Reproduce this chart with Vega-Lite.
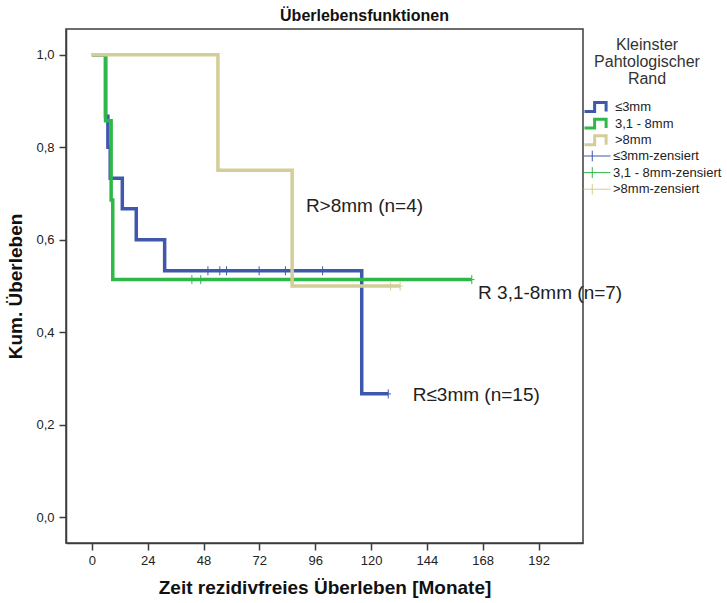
{
  "$schema": "https://vega.github.io/schema/vega-lite/v6.json",
  "width": 517,
  "height": 514,
  "autosize": {"type": "none"},
  "padding": {"left": 66, "top": 29, "right": 144, "bottom": 60},
  "title": {"text": "Überlebensfunktionen", "fontSize": 16, "fontWeight": "bold", "anchor": "middle", "dx": 40, "offset": 5, "color": "#111"},
  "config": {
    "font": "Liberation Sans",
    "view": {"stroke": "#3c3c3c", "strokeWidth": 1.5}
  },
  "datasets": {
    "curves": [
      {"series": "≤3mm", "t": 0, "s": 1},
      {"series": "≤3mm", "t": 5.9, "s": 0.867},
      {"series": "≤3mm", "t": 6.9, "s": 0.8},
      {"series": "≤3mm", "t": 7.9, "s": 0.733},
      {"series": "≤3mm", "t": 13.1, "s": 0.667},
      {"series": "≤3mm", "t": 19.1, "s": 0.6},
      {"series": "≤3mm", "t": 31.3, "s": 0.533},
      {"series": "≤3mm", "t": 116, "s": 0.267},
      {"series": "≤3mm", "t": 127.4, "s": 0.267},
      {"series": "3,1 - 8mm", "t": 0, "s": 1},
      {"series": "3,1 - 8mm", "t": 5.9, "s": 0.857},
      {"series": "3,1 - 8mm", "t": 8.3, "s": 0.686},
      {"series": "3,1 - 8mm", "t": 9.0, "s": 0.514},
      {"series": "3,1 - 8mm", "t": 163.3, "s": 0.514},
      {"series": ">8mm", "t": 0, "s": 1},
      {"series": ">8mm", "t": 54.2, "s": 0.75},
      {"series": ">8mm", "t": 86.1, "s": 0.5},
      {"series": ">8mm", "t": 132.5, "s": 0.5}
    ],
    "censored": [
      {"series": "≤3mm-zensiert", "t": 49.9, "s": 0.533},
      {"series": "≤3mm-zensiert", "t": 55, "s": 0.533},
      {"series": "≤3mm-zensiert", "t": 57.9, "s": 0.533},
      {"series": "≤3mm-zensiert", "t": 71.9, "s": 0.533},
      {"series": "≤3mm-zensiert", "t": 83.2, "s": 0.533},
      {"series": "≤3mm-zensiert", "t": 99.2, "s": 0.533},
      {"series": "≤3mm-zensiert", "t": 127.4, "s": 0.267},
      {"series": "3,1 - 8mm-zensiert", "t": 43.0, "s": 0.514},
      {"series": "3,1 - 8mm-zensiert", "t": 46.8, "s": 0.514},
      {"series": "3,1 - 8mm-zensiert", "t": 163.3, "s": 0.514},
      {"series": ">8mm-zensiert", "t": 128.4, "s": 0.5},
      {"series": ">8mm-zensiert", "t": 132.5, "s": 0.5}
    ],
    "notes": [
      {"label": "R>8mm (n=4)", "t": 92, "s": 0.672},
      {"label": "R 3,1-8mm (n=7)", "t": 166, "s": 0.486},
      {"label": "R≤3mm (n=15)", "t": 137.9, "s": 0.265}
    ]
  },
  "layer": [
    {
      "data": {"name": "curves"},
      "mark": {"type": "line", "interpolate": "step-after", "strokeWidth": 3.5},
      "encoding": {
        "x": {
          "field": "t", "type": "quantitative",
          "scale": {"domain": [-11.1, 211.1], "nice": false, "zero": false},
          "axis": {
            "title": "Zeit rezidivfreies Überleben [Monate]",
            "values": [0, 24, 48, 72, 96, 120, 144, 168, 192],
            "grid": false, "tickSize": 7, "tickWidth": 1.5, "tickColor": "#3c3c3c",
            "domainColor": "#3c3c3c", "domainWidth": 1.5,
            "labelFontSize": 13, "labelPadding": 4, "labelColor": "#222", "labelFlush": false,
            "titleFontSize": 19, "titleFontWeight": "bold", "titlePadding": 11, "titleColor": "#111"
          }
        },
        "y": {
          "field": "s", "type": "quantitative",
          "scale": {"domain": [-0.0553, 1.0555], "nice": false, "zero": false},
          "axis": {
            "title": "Kum. Überleben",
            "values": [0, 0.2, 0.4, 0.6, 0.8, 1.0],
            "labelExpr": "replace(format(datum.value, '.1f'), '.', ',')",
            "grid": false, "tickSize": 7, "tickWidth": 1.5, "tickColor": "#3c3c3c",
            "domainColor": "#3c3c3c", "domainWidth": 1.5,
            "labelFontSize": 13, "labelPadding": 5, "labelColor": "#222",
            "titleFontSize": 19, "titleFontWeight": "bold", "titlePadding": 10, "titleColor": "#111"
          }
        },
        "color": {
          "field": "series", "type": "nominal",
          "scale": {
            "domain": ["≤3mm", "3,1 - 8mm", ">8mm"],
            "range": ["#3E58AC", "#2EB848", "#D3CE97"]
          },
          "legend": {
            "title": ["Kleinster", "Pahtologischer", "Rand"],
            "orient": "none", "legendX": 517, "legendY": 8,
            "titleFontSize": 16, "titleFontWeight": "normal", "titleColor": "#333",
            "titleAlign": "center", "titleAnchor": "middle", "titleLineHeight": 17, "titlePadding": 12,
            "labelFontSize": 13, "labelColor": "#222", "labelOffset": 2,
            "clipHeight": 16, "rowPadding": 0.6, "symbolSize": 729, "padding": 0,
            "symbolType": "M-1,0.33H-0.25V-0.33H0.6V0.33",
            "symbolStrokeWidth": 3, "symbolFillColor": "transparent",
            "encode": {"title": {"update": {"dx": {"value": 19}}}}
          }
        }
      }
    },
    {
      "data": {"name": "censored"},
      "mark": {"type": "point", "shape": "M-0.6,0H0.6M0,-1V1", "size": 81, "filled": false, "strokeWidth": 1, "opacity": 1},
      "encoding": {
        "x": {"field": "t", "type": "quantitative"},
        "y": {"field": "s", "type": "quantitative"},
        "stroke": {
          "field": "series", "type": "nominal",
          "scale": {
            "domain": ["≤3mm-zensiert", "3,1 - 8mm-zensiert", ">8mm-zensiert"],
            "range": ["#3E58AC", "#2EB848", "#D3CE97"]
          },
          "legend": {
            "title": null,
            "orient": "none", "legendX": 517, "legendY": 119,
            "labelFontSize": 13, "labelColor": "#222", "labelOffset": 2,
            "clipHeight": 16, "rowPadding": 0.6, "symbolSize": 729, "padding": 0,
            "symbolType": "M-1,0H1M-0.35,-0.4V0.4",
            "symbolStrokeWidth": 1, "symbolFillColor": "transparent"
          }
        }
      }
    },
    {
      "data": {"name": "notes"},
      "mark": {"type": "text", "align": "left", "baseline": "middle", "fontSize": 19, "color": "#222"},
      "encoding": {
        "x": {"field": "t", "type": "quantitative"},
        "y": {"field": "s", "type": "quantitative"},
        "text": {"field": "label"}
      }
    }
  ]
}
